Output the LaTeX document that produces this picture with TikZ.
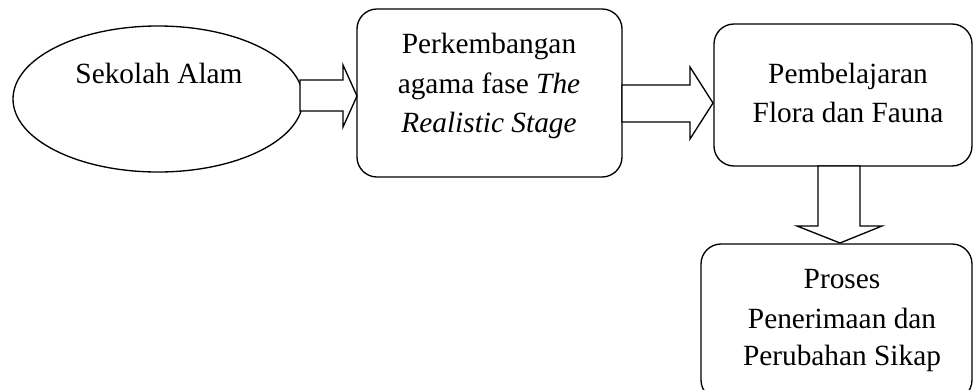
\documentclass[tikz,border=0pt]{standalone}
\usepackage{fontspec}
\setmainfont{Liberation Serif}
\usetikzlibrary{shapes.geometric}
\begin{document}
\begin{tikzpicture}[x=0.75pt,y=-0.75pt,
  shapeline/.style={draw=black,line width=1pt},
  oval/.style={shapeline,ellipse,inner sep=0pt,fill=white},
  stepbox/.style={shapeline,rectangle,rounded corners=15pt,inner sep=0pt,fill=white},
  blockarrow/.style={shapeline,fill=white,line join=miter},
  txt/.style={anchor=base,inner sep=0pt,font=\fontsize{22}{29.6}\selectfont}]
\useasboundingbox (0,0) rectangle (973,389);
% shapes
\node[oval,minimum width=217.5pt,minimum height=109.5pt] (e) at (158,99) {};
\node[stepbox,minimum width=198.75pt,minimum height=126pt] (b1) at (489.5,93) {};
\node[stepbox,minimum width=193.5pt,minimum height=106.5pt] (b2) at (843,95) {};
\node[stepbox,minimum width=203.25pt,minimum height=117pt] (b3) at (836.5,322) {};
% block arrows
\draw[blockarrow] (357,96) -- (343,65) -- (343,80) -- (300,80) -- (300,111) -- (343,111) -- (343,127) -- cycle;
\draw[blockarrow] (713,103) -- (690,67) -- (690,85) -- (622,85) -- (622,122) -- (690,122) -- (690,139) -- cycle;
\draw[blockarrow] (840,243) -- (882,226) -- (860,226) -- (860,166) -- (818,166) -- (818,226) -- (797,226) -- cycle;
% texts
\node[txt] (et) at (159,83) {Sekolah Alam};
\node[txt] (b1a) at (489,53) {Perkembangan};
\node[txt] (b1b) at (489,93) {agama fase \textit{The}};
\node[txt] (b1c) at (489,132) {\textit{Realistic Stage}};
\node[txt] (b2a) at (848,83) {Pembelajaran};
\node[txt] (b2b) at (848,122) {Flora dan Fauna};
\node[txt] (b3a) at (842,288) {Proses};
\node[txt] (b3b) at (842,328) {Penerimaan dan};
\node[txt] (b3c) at (842,365) {Perubahan Sikap};
\end{tikzpicture}
\end{document}
